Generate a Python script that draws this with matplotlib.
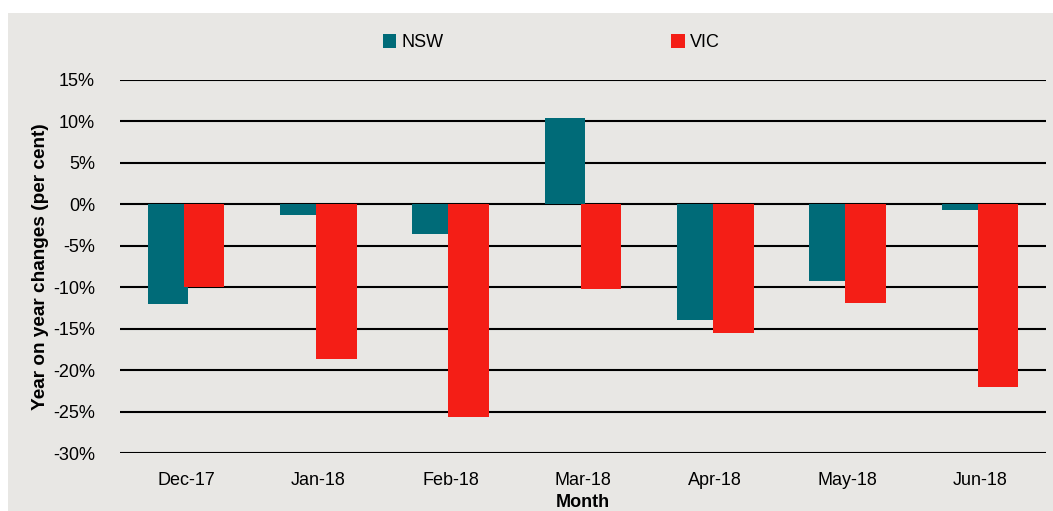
import numpy as np
import matplotlib
matplotlib.use('Agg')
import matplotlib.pyplot as plt
from matplotlib.patches import Rectangle

# data (per cent)
months = ['Dec-17', 'Jan-18', 'Feb-18', 'Mar-18', 'Apr-18', 'May-18', 'Jun-18']
nsw = [-12.0, -1.3, -3.6, 10.4, -14.0, -9.2, -0.7]
vic = [-10.0, -18.7, -25.7, -10.2, -15.5, -11.9, -22.0]
yticks = [15, 10, 5, 0, -5, -10, -15, -20, -25, -30]

plt.rcParams['font.family'] = ['Liberation Sans Narrow', 'Liberation Sans', 'DejaVu Sans']

bg = '#E8E7E4'
teal = '#006B78'
red = '#F41E16'

fig = plt.figure(figsize=(10.53, 5.11), dpi=100)
fig.patch.set_facecolor('white')
# grey panel behind everything, small white margin on left and top
fig.patches.append(Rectangle((8 / 1053, 0), 1 - 8 / 1053, 1 - 13 / 511,
                             transform=fig.transFigure, facecolor=bg,
                             edgecolor='none', zorder=-10))

ax = fig.add_axes([120 / 1053, 1 - 453 / 511, 926 / 1053, 373 / 511])
ax.set_facecolor(bg)

x = np.arange(len(months))
w = 0.307
off = 0.136
ax.bar(x - off, nsw, width=w, color=teal, label='NSW', zorder=3)
ax.bar(x + off, vic, width=w, color=red, label='VIC', zorder=4)

ax.set_xlim(-0.5, len(months) - 0.5)
ax.set_ylim(-30, 15)
ax.set_yticks(yticks)
ax.set_yticklabels([f'{v}%' for v in yticks], fontsize=13)
ax.set_xticks(x)
ax.set_xticklabels(months, fontsize=13)
ax.tick_params(axis='both', length=0)
ax.tick_params(axis='y', pad=18)
ax.tick_params(axis='x', pad=14)
ax.yaxis.grid(True, color='black', linewidth=1.5, zorder=1)
ax.set_axisbelow(True)
for s in ax.spines.values():
    s.set_visible(False)

ax.set_xlabel('Month', fontsize=13, fontweight='bold', labelpad=3)
ax.set_ylabel('Year on year changes (per cent)', fontsize=13.7, fontweight='bold', labelpad=3)

ax.legend(loc='center', bbox_to_anchor=(0.466, 1.10), ncol=2, frameon=False,
          fontsize=13, handlelength=0.75, handleheight=0.75, handletextpad=0.3,
          columnspacing=12.6)

fig.savefig('out.png', dpi=100, facecolor=fig.get_facecolor())
